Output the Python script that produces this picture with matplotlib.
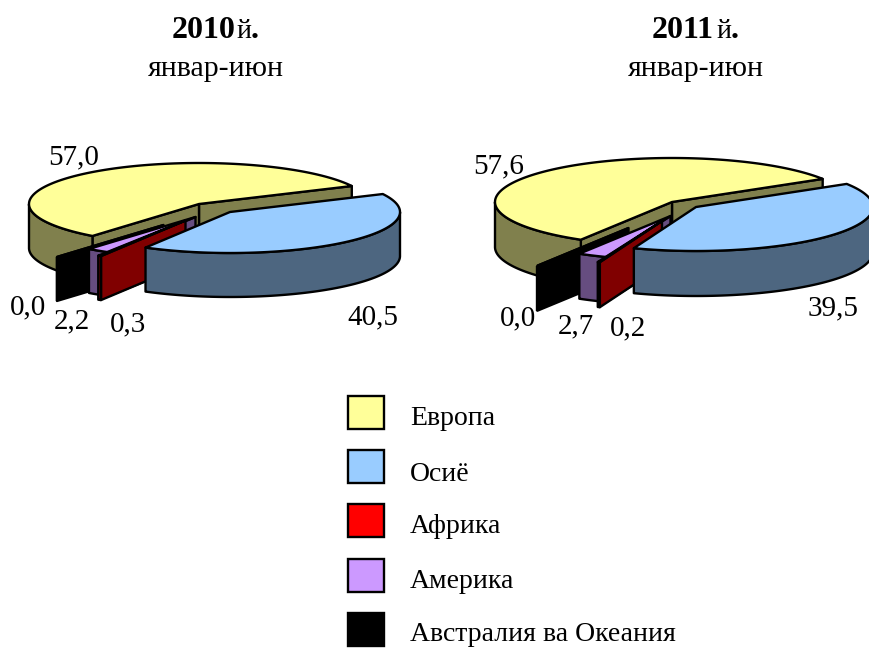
import numpy as np
import matplotlib
matplotlib.use('Agg')
import matplotlib.pyplot as plt
from matplotlib.patches import Polygon, Rectangle

plt.rcParams['font.family'] = ['Liberation Serif', 'DejaVu Serif']

regions = ['Европа', 'Осиё', 'Африка', 'Америка', 'Австралия ва Океания']
values_2010 = [57.0, 40.5, 0.3, 2.2, 0.0]
values_2011 = [57.6, 39.5, 0.2, 2.7, 0.0]
labels_2010 = ['57,0', '40,5', '0,3', '2,2', '0,0']
labels_2011 = ['57,6', '39,5', '0,2', '2,7', '0,0']

top_colors = ['#FFFF99', '#99CCFF', '#FF0000', '#CC99FF', '#000000']
side_colors = ['#80804D', '#4D6680', '#800000', '#664D80', '#000000']

# slice centres in pixels (each slice is pulled out on its own)
centres_2010 = [(199, 204), (230, 212), (185.5, 220.5), (195.5, 217), (163.5, 225)]
centres_2011 = [(672, 202), (696, 207), (662, 221), (670.5, 216), (628.5, 228)]

# painter's order: back to front
order = [0, 4, 3, 2, 1]


def poly(ax, pts, color):
    ax.add_patch(Polygon(pts, closed=True, facecolor=color, edgecolor='black',
                         linewidth=1.7, joinstyle='round'))


def pie3d(ax, values, centres, start, rx, ry, depth):
    # angles run clockwise from start, as in the original
    edges = start - np.cumsum([0] + values) * 3.6
    for i in order:
        hi, lo = edges[i], edges[i + 1]
        cx, cy = centres[i]
        t = np.radians(np.linspace(lo, hi, 361))
        x = cx + rx * np.cos(t)
        y = cy - ry * np.sin(t)

        # cut faces
        for a, visible in [(lo, np.cos(np.radians(lo)) > 0), (hi, np.cos(np.radians(hi)) < 0)]:
            if visible:
                px = cx + rx * np.cos(np.radians(a))
                py = cy - ry * np.sin(np.radians(a))
                poly(ax, [(cx, cy), (px, py), (px, py + depth), (cx, cy + depth)], side_colors[i])

        # front part of the rim
        front = np.sin(t) <= 0
        if front.sum() > 1:
            xr, yr = x[front], y[front]
            poly(ax, np.r_[np.c_[xr, yr], np.c_[xr, yr + depth][::-1]], side_colors[i])

        # top
        poly(ax, np.r_[[(cx, cy)], np.c_[x, y]], top_colors[i])


fig = plt.figure(figsize=(8.69, 6.48), dpi=100)
ax = fig.add_axes([0, 0, 1, 1])
ax.set_xlim(0, 869)
ax.set_ylim(648, 0)
ax.axis('off')

pie3d(ax, values_2010, centres_2010, 231.2, 170, 41, 44)
pie3d(ax, values_2011, centres_2011, 239.0, 177, 44, 45)

# titles
for x0, year in [(172, '2010'), (652, '2011')]:
    ax.text(x0, 38, year, fontsize=23, fontweight='bold', va='baseline', ha='left')
    ax.text(x0 + 64, 38, 'й', fontsize=20, va='baseline', ha='left')
    ax.text(x0 + 79, 38, '.', fontsize=23, fontweight='bold', va='baseline', ha='left')
ax.text(215.5, 76, 'январ-июн', fontsize=21.5, ha='center', va='baseline')
ax.text(696, 76, 'январ-июн', fontsize=21.5, ha='center', va='baseline')

# data labels
pos_2010 = [(48, 164), (347, 324), (110, 331), (54, 328), (10, 314)]
pos_2011 = [(473, 173), (808, 315), (610, 335), (558, 333), (500, 325)]
for labels, pos in [(labels_2010, pos_2010), (labels_2011, pos_2011)]:
    for s, (x, y) in zip(labels, pos):
        ax.text(x, y, s, fontsize=21, ha='left', va='baseline')

# legend
legend_text_y = [425, 481, 533, 588, 641]
for i, name in enumerate(regions):
    y = 396 + i * 54.2
    ax.add_patch(Rectangle((348, y), 36, 33, facecolor=top_colors[i], edgecolor='black', linewidth=1.7))
    ax.text(410, legend_text_y[i], name, fontsize=20, ha='left', va='baseline')

fig.savefig('out.png', dpi=100)
